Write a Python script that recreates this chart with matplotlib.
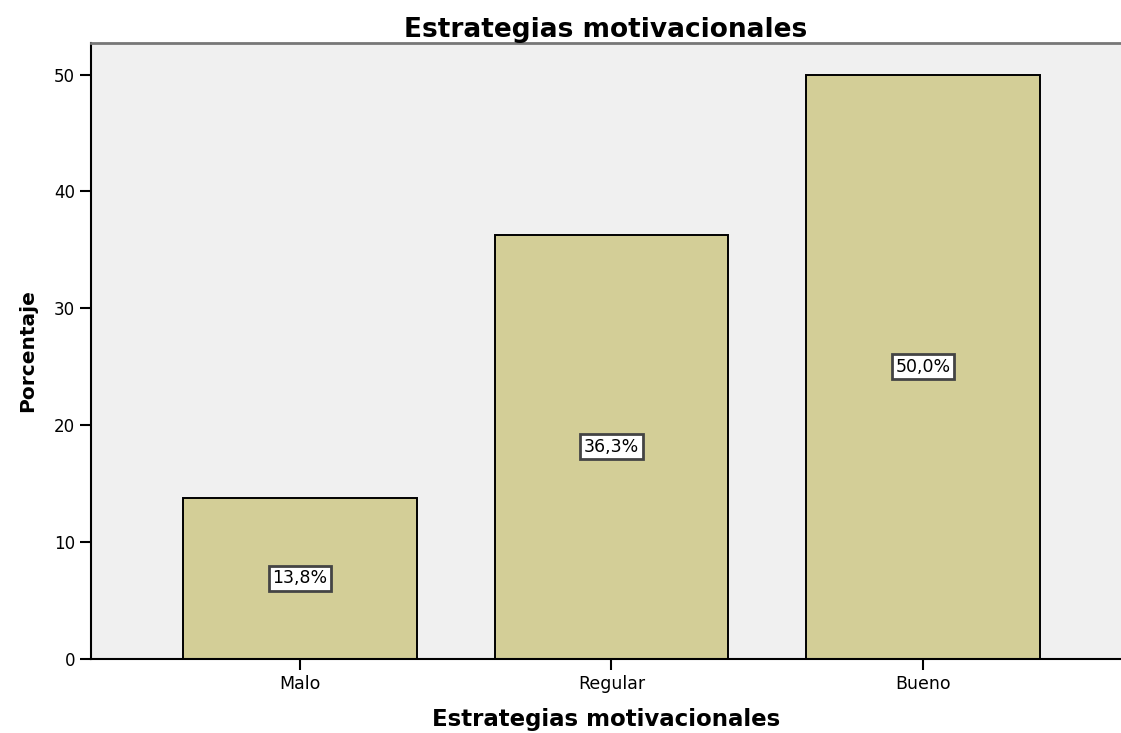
import matplotlib.pyplot as plt
import numpy as np

plt.rcParams['font.family'] = ['DejaVu Sans']

categorias = ['Malo', 'Regular', 'Bueno']
porcentajes = [13.8, 36.3, 50.0]
etiquetas = ['13,8%', '36,3%', '50,0%']
ticks_y = [0, 10, 20, 30, 40, 50]

fig = plt.figure(figsize=(11.21, 7.33), dpi=100)
ax = fig.add_axes([91/1121, 74/733, 1 - 91/1121, (659 - 43)/733])

x = np.arange(len(categorias))
ax.bar(x, porcentajes, width=0.75, color='#D3CE97', edgecolor='black', linewidth=1.4, zorder=2)

for xi, v, lab in zip(x, porcentajes, etiquetas):
    ax.text(xi, v / 2, lab, ha='center', va='center', fontsize=12.5, zorder=3,
            bbox=dict(boxstyle='square,pad=0.2', facecolor='white', edgecolor='#444444', linewidth=2))

ax.set_facecolor('#F0F0F0')
ax.set_xlim(-0.671, 2.636)
ax.set_ylim(0, 52.7)
ax.set_xticks(x)
ax.set_xticklabels(categorias, fontsize=12.5)
ax.set_yticks(ticks_y)
ax.set_yticklabels([str(t) for t in ticks_y], fontsize=12)
ax.tick_params(axis='both', direction='out', length=8, width=1.5, color='black')

ax.spines['right'].set_visible(False)
ax.spines['left'].set_linewidth(1.5)
ax.spines['bottom'].set_linewidth(1.5)
ax.spines['top'].set_color('#777777')
ax.spines['top'].set_linewidth(2)

ax.set_title('Estrategias motivacionales', fontsize=19, fontweight='bold', pad=1)
ax.set_xlabel('Estrategias motivacionales', fontsize=16.5, fontweight='bold', labelpad=11)
ax.set_ylabel('Porcentaje', fontsize=14.5, fontweight='bold', labelpad=12)

fig.savefig('out.png', dpi=100)
